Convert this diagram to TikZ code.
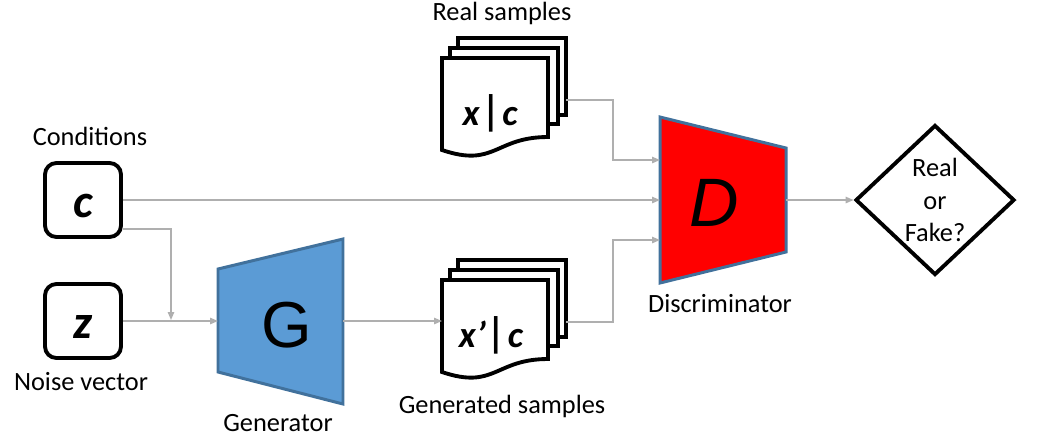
\documentclass[tikz,border=0pt]{standalone}
\usepackage{fontspec}
\setmainfont{Carlito}
\newfontfamily\arialfont{Liberation Sans}
\usetikzlibrary{shapes.geometric,arrows.meta,calc}

\definecolor{genblue}{RGB}{91,155,213}
\definecolor{edgeblue}{RGB}{65,113,156}
\definecolor{wire}{RGB}{175,175,175}

\tikzset{
  lbl/.style={font=\fontsize{15}{18.5}\selectfont,inner sep=0},
  wirearrow/.style={draw=wire,line width=0.9pt,-{Triangle[length=4.5pt,width=3.6pt]}},
  sheetline/.style={line width=2.2pt},
  sampletext/.style={font=\fontsize{21}{21}\selectfont\bfseries\itshape},
  sheets/.pic={
    \draw[sheetline] (16,-10) -- (16,-20) -- (124,-20) -- (124,57) -- (116,57);
    \draw[sheetline] (8,0) -- (8,-10) -- (116,-10) -- (116,66) -- (106,66);
    \draw[sheetline,fill=white] (0,0) -- (106,0) -- (106,79)
      .. controls (53,79) and (53,110) .. (0,92) -- cycle;
  }
}

\begin{document}
\begin{tikzpicture}[x=0.02cm,y=-0.02cm]
  \useasboundingbox (0,0) rectangle (1040,441);

  % inputs
  \begin{scope}[every node/.style={draw,rounded corners=6.5pt,line width=2.2pt,minimum width=1.52cm,minimum height=1.48cm,text height=22pt,text depth=2pt,font=\fontsize{27}{27}\selectfont\bfseries\itshape}]
    \node (c) at (83,200) {c};
    \node (z) at (83,321) {z};
  \end{scope}

  % generator and discriminator
  \draw[line width=1.7pt,draw=edgeblue,fill=genblue] (218,269) -- (343,239) -- (343,404) -- (218,372) -- cycle;
  \draw[line width=1.7pt,draw=edgeblue,fill=red] (660,117) -- (786,148) -- (786,252) -- (660,283) -- cycle;
  \node[font=\arialfont\fontsize{37}{37}\selectfont] (G) at (287,325.5) {G};
  \node[font=\arialfont\itshape\fontsize{39}{39}\selectfont] (D) at (714,203) {D};

  \coordinate (Gin) at (218,321);
  \coordinate (Gout) at (343,321);
  \coordinate (Din1) at (660,160);
  \coordinate (Din2) at (660,200);
  \coordinate (Din3) at (660,240);
  \coordinate (Dout) at (786,200);

  % sample stacks
  \pic at (442,58) {sheets};
  \pic at (442,280) {sheets};
  \node[sampletext] (real) at (490,113) {x\kern2pt\scalebox{1}[1.15]{|}\kern1pt c};
  \node[sampletext] (fake) at (491,335) {x'\kern1.5pt\scalebox{1}[1.15]{|}\kern1pt c};

  \coordinate (realout) at (566,100);
  \coordinate (genin) at (442,321);
  \coordinate (genout) at (566,322);
  \coordinate (join) at (171,320);
  \coordinate (cout) at ($(c.south east)+(0,-10)$);

  % output
  \node[diamond,draw,line width=2.2pt,minimum width=3.18cm,minimum height=3.0cm,inner sep=0,align=center,font=\fontsize{15}{18.5}\selectfont] (out) at (935,200) {Real\\or\\Fake?};

  % labels
  \begin{scope}[every node/.style={lbl,anchor=base}]
    \node (condlbl) at (90,145) {Conditions};
    \node (noiselbl) at (81,390) {Noise vector};
    \node (genlbl) at (278,431) {Generator};
    \node (reallbl) at (502,20) {Real samples};
    \node (fakelbl) at (502,413) {Generated samples};
    \node (dislbl) at (720,312) {Discriminator};
  \end{scope}

  % wires
  \begin{scope}[every edge/.style={wirearrow}]
    \path (c) edge (Din2);
    \path (z) edge (Gin);
    \path (Gout) edge (genin);
    \path (Dout) edge (out);
  \end{scope}
  \draw[wirearrow] (cout) -| (join);
  \draw[wirearrow] (realout) -| ($(realout)!.5!(Din1)$) |- (Din1);
  \draw[wirearrow] (genout) -| ($(genout)!.5!(Din3)$) |- (Din3);

\end{tikzpicture}
\end{document}
